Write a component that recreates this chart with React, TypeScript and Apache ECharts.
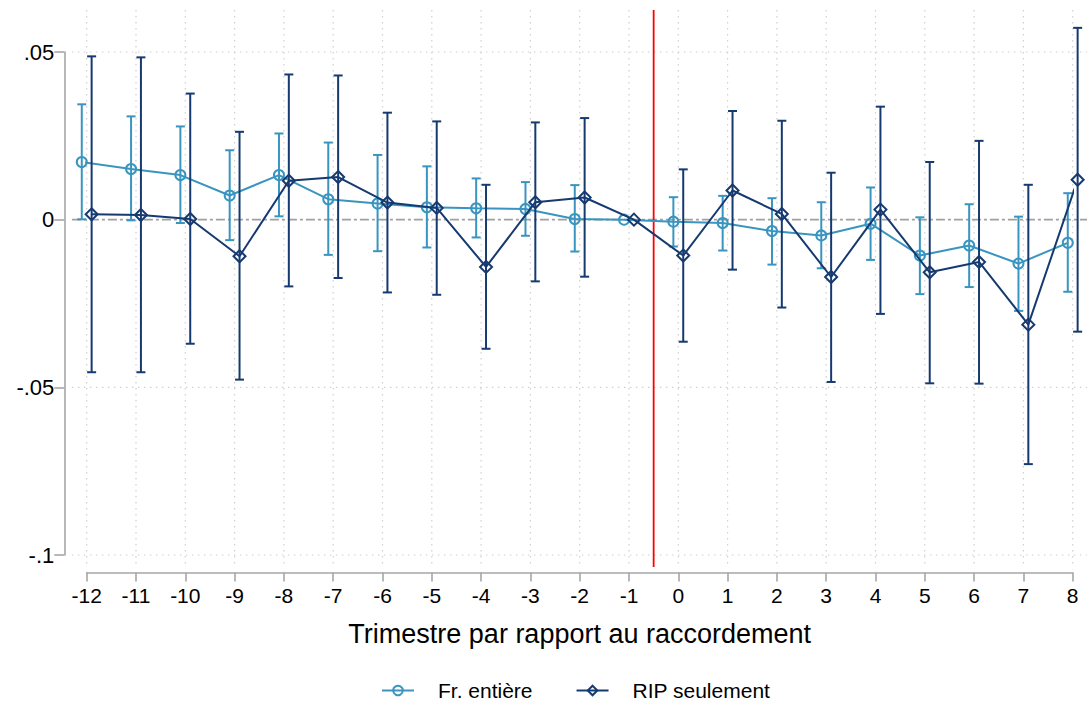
import React, { useEffect, useRef } from "react";
import * as echarts from "echarts";

const xTicks = [-12, -11, -10, -9, -8, -7, -6, -5, -4, -3, -2, -1, 0, 1, 2, 3, 4, 5, 6, 7, 8];
const yTicks = [0.05, 0, -0.05, -0.1];

const frName = "Fr. entière";
const frEst = [0.0172, 0.0151, 0.0133, 0.0072, 0.0133, 0.0061, 0.0048, 0.0037, 0.0034, 0.0032, 0.0002, 0, -0.0006, -0.001, -0.0034, -0.0047, -0.0012, -0.0107, -0.0077, -0.0131, -0.0069];
const frHi = [0.0344, 0.0308, 0.0278, 0.0207, 0.0257, 0.023, 0.0193, 0.0159, 0.0123, 0.0112, 0.0103, null, 0.0067, 0.0071, 0.0064, 0.0052, 0.0096, 0.0007, 0.0046, 0.0009, 0.0079];
const frLo = [0.0001, -0.0002, -0.001, -0.0061, 0.001, -0.0105, -0.0094, -0.0083, -0.0053, -0.0048, -0.0095, null, -0.008, -0.0092, -0.0134, -0.0145, -0.012, -0.0222, -0.0201, -0.0272, -0.0215];

const ripName = "RIP seulement";
const ripEst = [0.0016, 0.0014, 0.0002, -0.0109, 0.0116, 0.0127, 0.0051, 0.0035, -0.0141, 0.0052, 0.0066, 0, -0.0107, 0.0087, 0.0017, -0.0171, 0.003, -0.0157, -0.0126, -0.0313, 0.0119];
const ripHi = [0.0487, 0.0484, 0.0376, 0.0262, 0.0433, 0.043, 0.0319, 0.0293, 0.0104, 0.029, 0.0303, null, 0.015, 0.0324, 0.0295, 0.014, 0.0337, 0.0172, 0.0235, 0.0104, 0.0572];
const ripLo = [-0.0455, -0.0455, -0.037, -0.0477, -0.0199, -0.0174, -0.0217, -0.0224, -0.0385, -0.0184, -0.017, null, -0.0364, -0.0149, -0.0262, -0.0484, -0.0281, -0.0488, -0.0489, -0.0729, -0.0334];

const treatmentLine = -0.5;
const xTitle = "Trimestre par rapport au raccordement";

const FONT = "'Liberation Sans', Arial, sans-serif";
const LIGHT = "#3995c0";
const DARK = "#163a70";
const AXIS = "#a6a6a6";
const GRID = "#cfcfcf";

// plot-region extents beyond the tick range (style)
const EXT = { left: -12.3, right: 8.3, top: 0.0625, bottom: -0.1036 };

function fmtY(v: number) {
  const s = String(+v.toFixed(3));
  return s.replace("0.", ".");
}

export default function App() {
  const ref = useRef<HTMLDivElement>(null);
  useEffect(() => {
    if (!ref.current) return;
    const chart = echarts.init(ref.current, undefined, { renderer: "svg" });

    const shiftFr = -0.1;
    const shiftRip = 0.1;

    const barData = (lo: (number | null)[], hi: (number | null)[], shift: number) =>
      xTicks
        .map((x, i) => (lo[i] == null || hi[i] == null ? null : [x + shift, lo[i], hi[i]]))
        .filter((d) => d != null);

    const lineData = (est: number[], shift: number) => xTicks.map((x, i) => [x + shift, est[i]]);

    // reference lines: [x1, y1, x2, y2, kind]
    const refData: any[] = [];
    xTicks.forEach((x) => refData.push([x, EXT.top, x, EXT.bottom, 0]));
    yTicks.filter((y) => y !== 0).forEach((y) => refData.push([EXT.left, y, EXT.right, y, 0]));
    refData.push([EXT.left, 0, EXT.right, 0, 1]);
    refData.push([treatmentLine, EXT.top, treatmentLine, EXT.bottom, 2]);

    const refStyles = [
      { stroke: GRID, lineWidth: 1.2, lineDash: [1.5, 4.5] },
      { stroke: "#a0a0a0", lineWidth: 1.6, lineDash: [9, 3, 3, 3] },
      { stroke: "#ff0000", lineWidth: 1.8 },
    ];

    const errRender = (color: string) => (params: any, api: any) => {
      const x = api.value(0);
      const top = api.coord([x, api.value(2)]);
      const bot = api.coord([x, api.value(1)]);
      const w = 4.5;
      const style = { stroke: color, lineWidth: 2 };
      return {
        type: "group",
        children: [
          { type: "line", shape: { x1: top[0], y1: top[1], x2: bot[0], y2: bot[1] }, style },
          { type: "line", shape: { x1: top[0] - w, y1: top[1], x2: top[0] + w, y2: top[1] }, style },
          { type: "line", shape: { x1: bot[0] - w, y1: bot[1], x2: bot[0] + w, y2: bot[1] }, style },
        ],
      };
    };

    chart.setOption({
      animation: false,
      textStyle: { fontFamily: FONT },
      grid: { left: 86.7, right: 14.3, top: 52, bottom: 148, containLabel: false },
      xAxis: {
        type: "value",
        min: -12,
        max: 8,
        interval: 1,
        offset: 17.5,
        axisLine: { show: true, onZero: false, lineStyle: { color: AXIS, width: 1.6 } },
        axisTick: { show: true, length: 9, lineStyle: { color: AXIS, width: 1.6 } },
        axisLabel: { color: "#000", fontSize: 21, margin: 12, fontFamily: FONT },
        splitLine: { show: false },
        name: xTitle,
        nameLocation: "middle",
        nameGap: 48,
        nameTextStyle: { color: "#000", fontSize: 27, fontFamily: FONT },
      },
      yAxis: {
        type: "value",
        min: -0.1,
        max: 0.05,
        interval: 0.05,
        offset: 22.4,
        axisLine: { show: true, onZero: false, lineStyle: { color: AXIS, width: 1.6 } },
        axisTick: { show: true, length: 10, lineStyle: { color: AXIS, width: 1.6 } },
        axisLabel: { color: "#000", fontSize: 22, margin: 10, fontFamily: FONT, formatter: (v: number) => fmtY(v) },
        splitLine: { show: false },
      },
      legend: {
        bottom: -3,
        left: 376,
        itemWidth: 32,
        itemHeight: 12,
        itemGap: 43,
        data: [frName, ripName],
        textStyle: { color: "#000", fontSize: 21, fontFamily: FONT, padding: [0, 0, 0, 19] },
      },
      series: [
        {
          type: "custom",
          name: "ref",
          silent: true,
          clip: false,
          z: 1,
          renderItem: (params: any, api: any) => {
            const p1 = api.coord([api.value(0), api.value(1)]);
            const p2 = api.coord([api.value(2), api.value(3)]);
            return {
              type: "line",
              shape: { x1: p1[0], y1: p1[1], x2: p2[0], y2: p2[1] },
              style: refStyles[api.value(4)],
            };
          },
          encode: { x: [0, 2], y: [1, 3] },
          data: refData,
        },
        {
          type: "custom",
          name: frName + " IC",
          silent: true,
          clip: false,
          z: 3,
          renderItem: errRender(LIGHT),
          encode: { x: 0, y: [1, 2] },
          data: barData(frLo, frHi, shiftFr),
        },
        {
          type: "line",
          name: frName,
          clip: false,
          z: 4,
          symbol: "circle",
          symbolSize: 10,
          itemStyle: { color: "rgba(255,255,255,0)", borderColor: LIGHT, borderWidth: 2 },
          lineStyle: { color: LIGHT, width: 2 },
          data: lineData(frEst, shiftFr),
        },
        {
          type: "custom",
          name: ripName + " IC",
          silent: true,
          clip: false,
          z: 5,
          renderItem: errRender(DARK),
          encode: { x: 0, y: [1, 2] },
          data: barData(ripLo, ripHi, shiftRip),
        },
        {
          type: "line",
          name: ripName,
          clip: false,
          z: 6,
          symbol: "diamond",
          symbolSize: 12,
          itemStyle: { color: "rgba(255,255,255,0)", borderColor: DARK, borderWidth: 2 },
          lineStyle: { color: DARK, width: 2 },
          data: lineData(ripEst, shiftRip),
        },
      ],
    });
    return () => chart.dispose();
  }, []);
  return (
    <div
      ref={ref}
      style={{ position: "fixed", left: 0, top: 0, width: 1087, height: 703, background: "#fff" }}
    />
  );
}
